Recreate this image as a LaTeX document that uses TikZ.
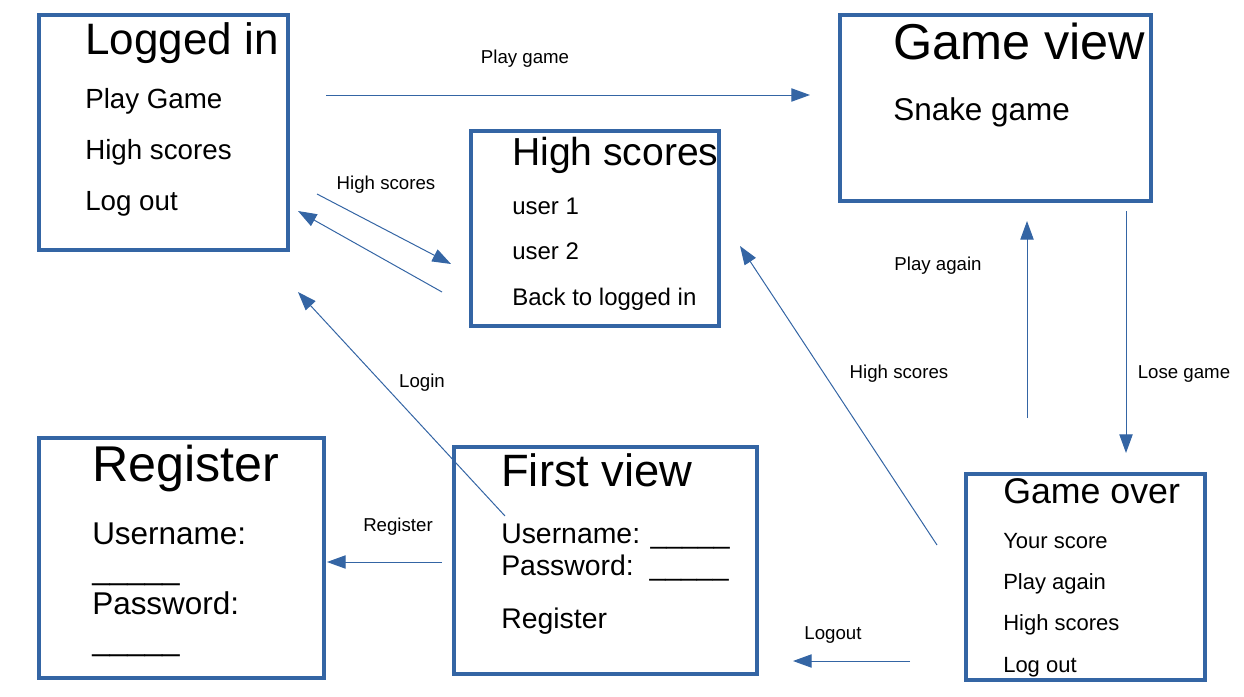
\documentclass[tikz,border=0pt]{standalone}
\usepackage{fontspec}
\setmainfont{Liberation Sans}
\usetikzlibrary{arrows.meta}
\definecolor{lo}{HTML}{3465A4}
\newcommand{\fsz}[1]{\fontsize{#1}{#1}\selectfont}
\tikzset{
  box/.style={draw=lo, line width=2.9pt, inner sep=0pt, fill=none},
  txt/.style={anchor=base west, inner sep=0pt, text=black, yshift=-1.2pt},
  conn/.style={draw=lo, line width=0.75pt, -{Triangle[length=14pt,width=10pt]}},
  lbl/.style={inner sep=0pt, font=\fsz{14}, text=black, yshift=-1.5pt}
}
\begin{document}
\begin{tikzpicture}[x=0.75pt,y=-0.75pt]
\useasboundingbox (0,0) rectangle (1244,696);
% boxes
\node[box, minimum width=249*0.75pt, minimum height=235*0.75pt] (login) at (163.5,132.5) {};
\node[box, minimum width=311*0.75pt, minimum height=186*0.75pt] (game) at (995.5,108) {};
\node[box, minimum width=248*0.75pt, minimum height=195*0.75pt] (hs) at (595,228.5) {};
\node[box, minimum width=285*0.75pt, minimum height=240*0.75pt] (reg) at (181.5,558) {};
\node[box, minimum width=303*0.75pt, minimum height=227*0.75pt] (first) at (605.5,560.5) {};
\node[box, minimum width=239*0.75pt, minimum height=206*0.75pt] (over) at (1085.5,577) {};
% Logged in
\node[txt, font=\fsz{33}] (t1) at (85,53) {Logged in};
\node[txt, font=\fsz{20.8}] (t1a) at (85,107) {Play Game};
\node[txt, font=\fsz{20.8}] (t1b) at (85,158) {High scores};
\node[txt, font=\fsz{20.8}] (t1c) at (85,209) {Log out};
% Game view
\node[txt, font=\fsz{37.8}] (t2) at (893,58) {Game view};
\node[txt, font=\fsz{23.6}] (t2a) at (893,119) {Snake game};
% High scores
\node[txt, font=\fsz{29.3}] (t3) at (512,164) {High scores};
\node[txt, font=\fsz{18}] (t3a) at (512,213) {user 1};
\node[txt, font=\fsz{18}] (t3b) at (512,258) {user 2};
\node[txt, font=\fsz{18}] (t3c) at (512,304) {Back to logged in};
% Register
\node[txt, font=\fsz{37.7}] (t4) at (92,480) {Register};
\node[txt, font=\fsz{23.6}] (t4a) at (92,543) {Username:};
\node[txt, font=\fsz{23.6}] (t4b) at (92,578) {\_\_\_\_\_};
\node[txt, font=\fsz{23.6}] (t4c) at (92,613) {Password:};
\node[txt, font=\fsz{23.6}] (t4d) at (92,649) {\_\_\_\_\_};
% First view
\node[txt, font=\fsz{34}] (t5) at (501,485) {First view};
\node[txt, font=\fsz{21.3}] (t5a) at (501,542) {Username: \_\_\_\_\_};
\node[txt, font=\fsz{21.3}] (t5b) at (501,574) {Password:~~\_\_\_\_\_};
\node[txt, font=\fsz{21.3}] (t5c) at (501,627) {Register};
% Game over
\node[txt, font=\fsz{26.8}] (t6) at (1003,502) {Game over};
\node[txt, font=\fsz{16.5}] (t6a) at (1003,547) {Your score};
\node[txt, font=\fsz{16.5}] (t6b) at (1003,588) {Play again};
\node[txt, font=\fsz{16.5}] (t6c) at (1003,629) {High scores};
\node[txt, font=\fsz{16.5}] (t6d) at (1003,671) {Log out};
% connector end points
\coordinate (a1) at (326,95);   \coordinate (b1) at (810,95);
\coordinate (a2) at (317,194);  \coordinate (b2) at (451,264);
\coordinate (a3) at (442,292);  \coordinate (b3) at (298,211);
\coordinate (a4) at (505,516);  \coordinate (b4) at (298,292);
\coordinate (a5) at (442,562);  \coordinate (b5) at (327,562);
\coordinate (a6) at (937,545);  \coordinate (b6) at (740,246);
\coordinate (a7) at (1027,418); \coordinate (b7) at (1027,221);
\coordinate (a8) at (1126,211); \coordinate (b8) at (1126,453);
\coordinate (a9) at (910,661);  \coordinate (b9) at (793,661);
\draw[conn] (a1) -- (b1);
\draw[conn] (a2) -- (b2);
\draw[conn] (a3) -- (b3);
\draw[conn] (a4) -- (b4);
\draw[conn] (a5) -- (b5);
\draw[conn] (a6) -- (b6);
\draw[conn] (a7) -- (b7);
\draw[conn] (a8) -- (b8);
\draw[conn] (a9) -- (b9);
% labels
\node[lbl] (l1) at (525,57) {Play game};
\node[lbl] (l2) at (386,183) {High scores};
\node[lbl] (l4) at (422,381) {Login};
\node[lbl] (l5) at (398,525) {Register};
\node[lbl] (l6) at (899,372) {High scores};
\node[lbl] (l7) at (938,264) {Play again};
\node[lbl] (l8) at (1184,372) {Lose game};
\node[lbl] (l9) at (833,633) {Logout};
\end{tikzpicture}
\end{document}
